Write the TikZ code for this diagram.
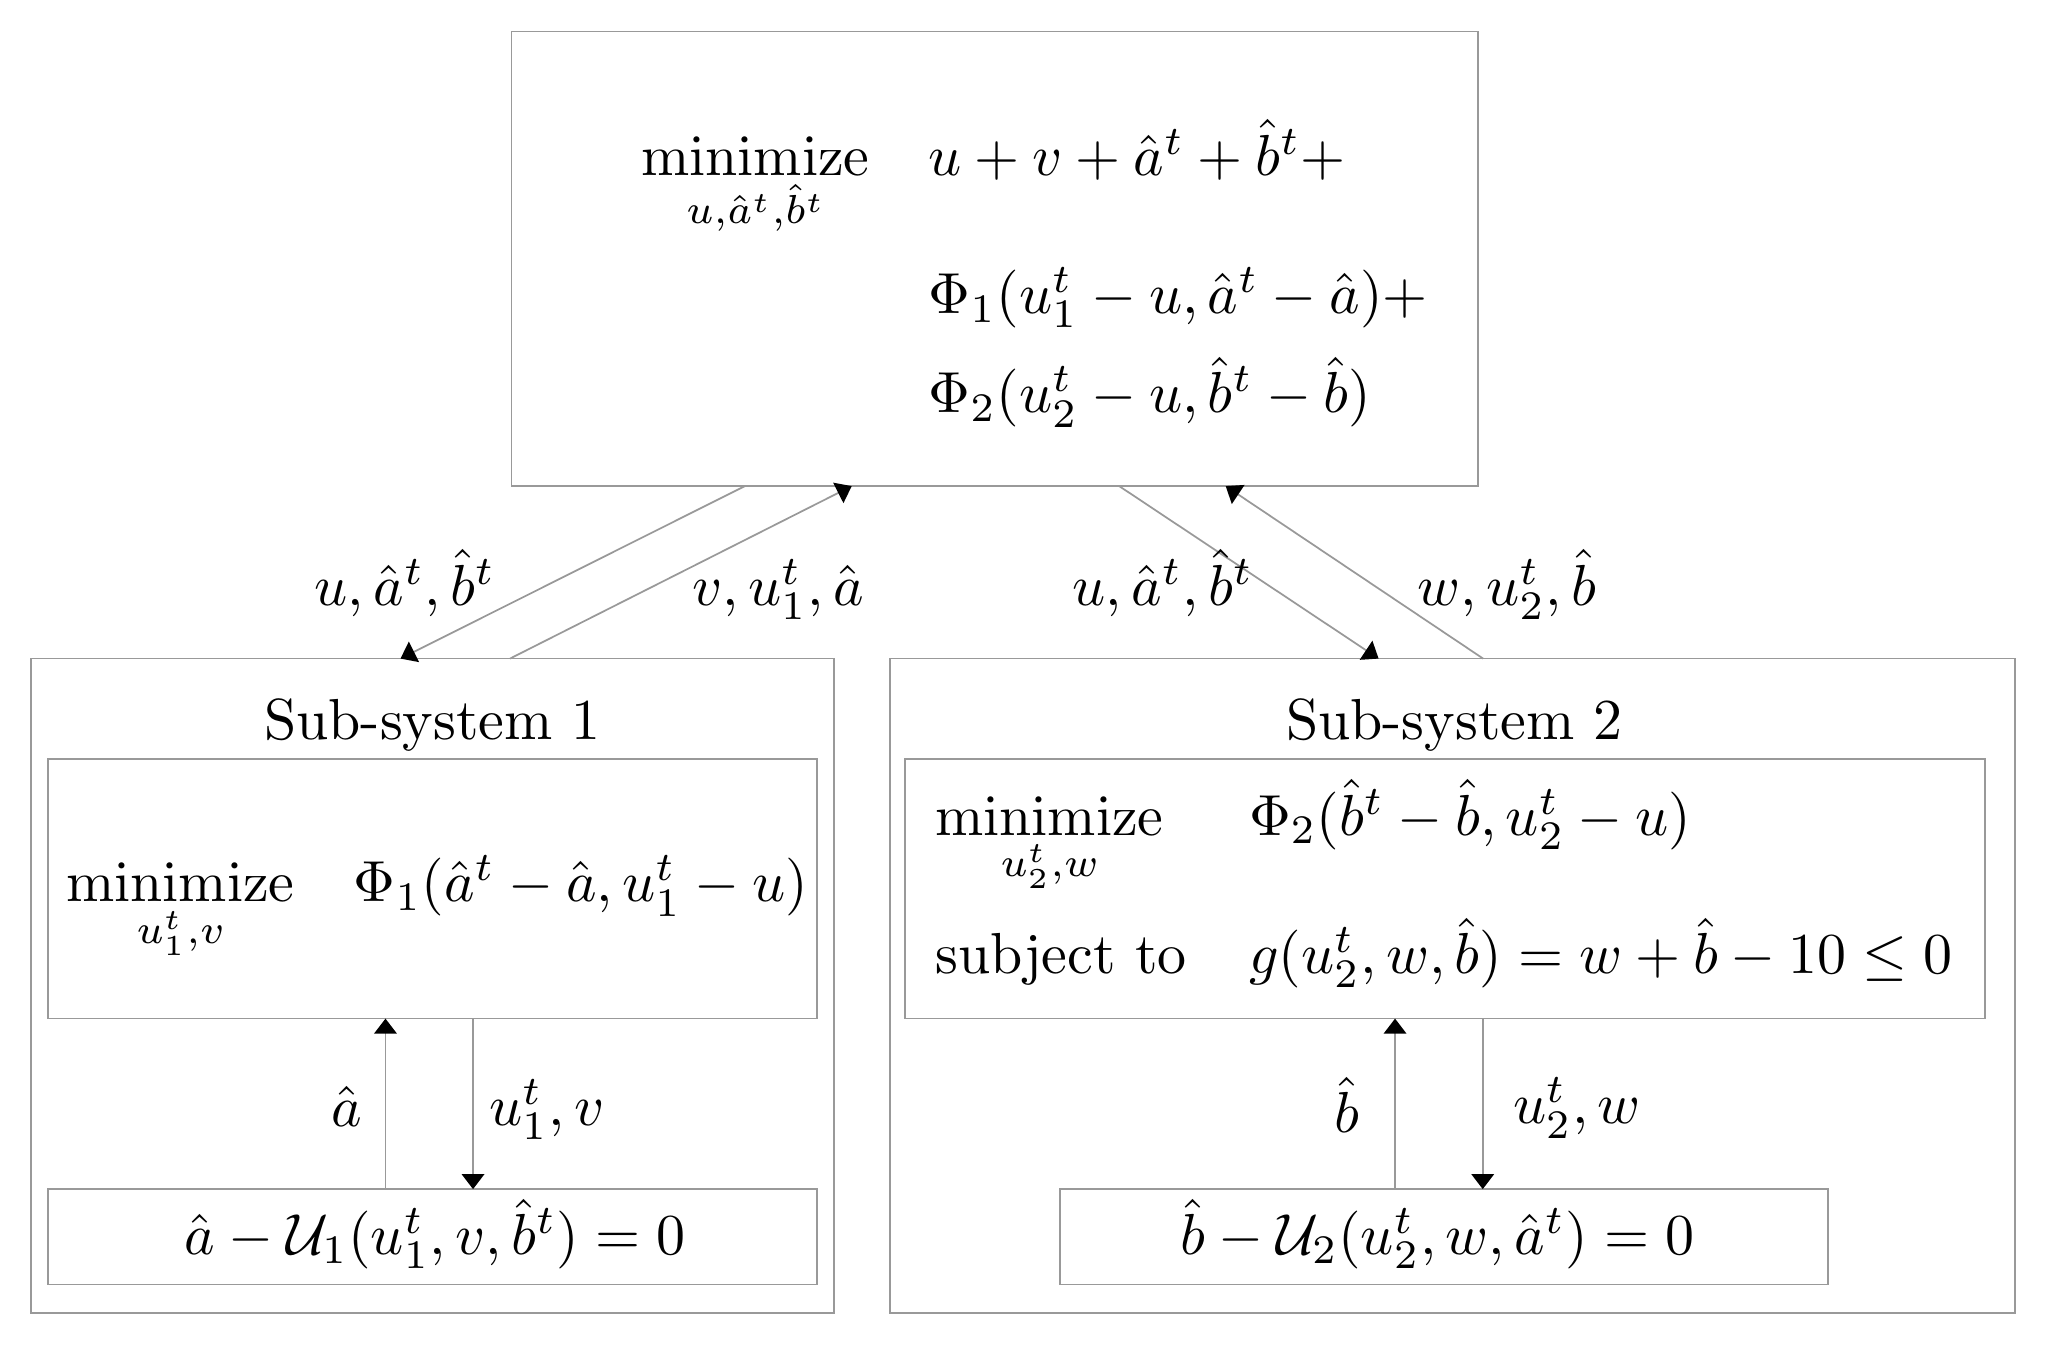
\documentclass[tikz,border=0pt]{standalone}
\usepackage{amsmath}
\usetikzlibrary{arrows.meta,calc,fit}
\tikzset{
  box/.style={draw=gray!80, line width=0.3pt, inner sep=0pt, outer sep=0pt},
  arr/.style={draw=gray!80, line width=0.3pt,
    -{Triangle[length=2.6pt,width=3.9pt,color=black,fill=black]}},
  txt/.style={inner sep=0pt, anchor=base west},
  lbl/.style={inner sep=0pt, anchor=base},
}
\begin{document}
\begin{tikzpicture}[x=0.2257pt,y=-0.2257pt]
\useasboundingbox (0,0) rectangle (1565,1029.3);

% boxes
\node[box, fit={(391.5,24) (1131,372)}] (top) {};
\node[box, fit={(23.5,504) (638,1005)}] (sub1) {};
\node[box, fit={(36.5,581) (625,779.5)}] (in1) {};
\node[box, fit={(36.5,910) (625,983)}] (bot1) {};
\node[box, fit={(681,504) (1542,1005)}] (sub2) {};
\node[box, fit={(692.5,581) (1519,779.5)}] (in2) {};
\node[box, fit={(811,910) (1399,983)}] (bot2) {};

% top problem
\node[txt] (tmin) at (490,134) {$\displaystyle\operatorname*{minimize}_{u,\hat a^t,\hat b^t}$};
\node[txt] (tobja) at (710,134) {$u+v+\hat a^t+\hat b^t+$};
\node[txt] (tobjb) at (710,240) {$\Phi_1(u_1^t-u,\hat a^t-\hat a)+$};
\node[txt] (tobjc) at (710,316) {$\Phi_2(u_2^t-u,\hat b^t-\hat b)$};

% sub-system 1
\node[lbl] (s1title) at (331,566) {Sub-system 1};
\node[txt] (s1min) at (50,690) {$\displaystyle\operatorname*{minimize}_{u_1^t,v}$};
\node[txt] (s1obj) at (270,690) {$\Phi_1(\hat a^t-\hat a,u_1^t-u)$};
\node[lbl] (s1eq) at (333,960) {$\hat a-\mathcal{U}_1(u_1^t,v,\hat b^t)=0$};

% sub-system 2
\node[lbl] (s2title) at (1113,566) {Sub-system 2};
\node[txt] (s2min) at (715,639) {$\displaystyle\operatorname*{minimize}_{u_2^t,w}$};
\node[txt] (s2obj) at (955,639) {$\Phi_2(\hat b^t-\hat b,u_2^t-u)$};
\node[txt] (s2st) at (715,745) {subject to};
\node[txt] (s2con) at (955,745) {$g(u_2^t,w,\hat b)=w+\hat b-10\leq 0$};
\node[lbl] (s2eq) at (1100,960) {$\hat b-\mathcal{U}_2(u_2^t,w,\hat a^t)=0$};

% connectors between top and sub-systems
\draw[arr] ($(top.south west)+(178.5,0)$) -- ($(sub1.north west)+(283,0)$);
\draw[arr] ($(sub1.north west)+(366.8,0)$) -- ($(top.south west)+(260.3,0)$);
\draw[arr] ($(top.south west)+(465,0)$) -- ($(sub2.north west)+(374,0)$);
\draw[arr] ($(sub2.north west)+(454,0)$) -- ($(top.south west)+(546.5,0)$);

\node[txt] (l1) at (240,463) {$u,\hat a^t,\hat b^t$};
\node[txt] (l2) at (529,463) {$v,u_1^t,\hat a$};
\node[txt] (l3) at (820,463) {$u,\hat a^t,\hat b^t$};
\node[txt] (l4) at (1084,463) {$w,u_2^t,\hat b$};

% inner connectors
\draw[arr] ($(bot1.north west)+(258.5,0)$) -- ($(in1.south west)+(258.5,0)$);
\draw[arr] ($(in1.south west)+(325.5,0)$) -- ($(bot1.north west)+(325.5,0)$);
\draw[arr] ($(bot2.north west)+(256.6,0)$) -- ($(in2.south west)+(375.1,0)$);
\draw[arr] ($(in2.south west)+(442.2,0)$) -- ($(bot2.north west)+(323.7,0)$);

\node[lbl] (l5) at (265.6,862) {$\hat a$};
\node[txt] (l6) at (373.6,861) {$u_1^t,v$};
\node[lbl] (l7) at (1031,867) {$\hat b$};
\node[txt] (l8) at (1157,860) {$u_2^t,w$};
\end{tikzpicture}
\end{document}
